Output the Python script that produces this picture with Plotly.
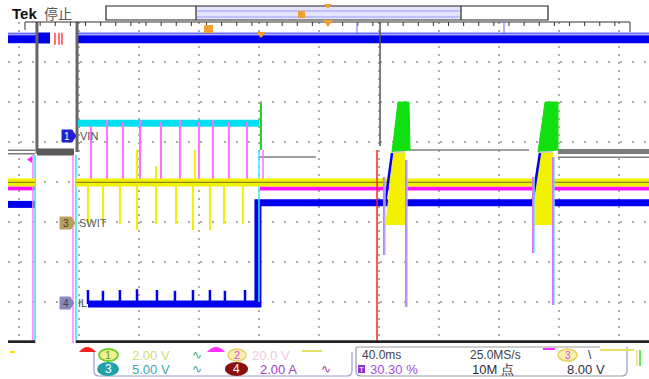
import plotly.graph_objects as go

# ---------------- data ----------------
# time in ms (40 ms/div, trigger at 0), level in divisions from screen centre
T_MIN, T_MAX = -247.3, 180.0
V_MIN, V_MAX = -4.025, 4.0

# top (clipped) blue channel band
top_blue_t = [-247.3, -228.0, None, -200.7, 180.0]
top_blue_v = [3.57, 3.57, None, 3.57, 3.57]
top_blue_block_t = [-228.0, -219.3]
top_blue_block_v = [3.6, 3.6]

# VIN (cyan)
vin_t = [-200.7, -80.0]
vin_v = [1.47, 1.47]

# gray channel
gray_thick_t = [-247.3, -229.3, None, 119.3, 180.0]
gray_thick_v = [0.75, 0.75, None, 0.76, 0.76]
gray_thin_t = [-80.7, -42.0, None, 20.0, 100.0, None, 119.3, 180.0]
gray_thin_v = [0.625, 0.625, None, 0.8, 0.8, None, 0.62, 0.62]
gray_dark_t = [-228.0, -228.0, -203.3, None, -201.3, -201.3]
gray_dark_v = [4.1, 0.75, 0.75, None, 0.75, 4.1]

# SWIT (yellow)
swit_t = [-247.3, -229.3, None, -202.0, 180.0]
swit_v = [-0.01, -0.01, None, -0.01, -0.01]
swit_spike_t = [-194.0, -184.0, -172.7, -161.3, -148.7, -135.3, -124.0, -112.7, -103.3, -90.7]
swit_spike_low = [-1.05, -1.05, -1.05, -1.2, -1.05, -1.05, -1.2, -1.2, -1.05, -1.05]
swit_up_t = [-161.3, -148.7, -122.7]
swit_up_high = [0.8, 0.4, 0.8]

# magenta channel
mag_t = [-247.3, -229.3, None, -79.3, 180.0]
mag_v = [-0.16, -0.16, None, -0.16, -0.16]
mag_spike_t = [-192.0, -181.3, -170.7, -159.3, -145.3, -132.7, -120.0, -110.7, -100.0, -88.0]
mag_spike_high = [1.4, 1.55, 1.5, 1.55, 1.5, 1.55, 1.5, 1.55, 1.5, 1.5]

# IL (blue)
il_t = [-247.3, -229.3, None, -194.0, -80.7, -80.7, 180.0]
il_v = [-0.56, -0.56, None, -3.05, -3.05, -0.52, -0.52]
il_spike_t = [-194.0, -184.0, -172.7, -161.3, -148.0, -136.0, -124.0, -112.7, -102.7, -89.3]
il_spike_high = [-2.7, -2.72, -2.7, -2.68, -2.7, -2.72, -2.7, -2.7, -2.72, -2.7]

# bursts (two switching events after the trigger)
burst_yellow_t = [[4.7, 8.0, 10.0, 17.3, 17.3], [102.7, 104.7, 107.3, 116.0, 116.0]]
burst_yellow_v = [[-1.075, 0.175, 0.725, 0.725, -1.075], [-1.075, 0.175, 0.725, 0.725, -1.075]]
burst_green_t = [[8.7, 12.7, 20.0, 20.7, 8.7], [106.0, 110.7, 119.3, 119.3, 106.0]]
burst_green_v = [[0.75, 2.0, 2.0, 0.8, 0.75], [0.75, 2.0, 2.0, 0.8, 0.75]]
burst_blue_t = [[4.0, 8.7], [102.0, 107.3]]
burst_blue_v = [[-0.575, 0.725], [-0.575, 0.725]]
burst_mag_t = [3.3, 18.0, 102.7, 116.0]
burst_mag_top = [0.125, 0.55, 0.125, 0.625]
burst_mag_low = [-1.825, -3.125, -1.775, -3.075]

vin_drop_green_t = [-78.7, -78.7]
vin_drop_green_v = [1.975, 0.8]

# ---------------- figure ----------------
W, H = 649, 379
ML, MR, MT, MB = 8, 0, 22, 36
PW, PH = W - ML - MR, H - MT - MB


def px(x):
    return (x - ML) / PW


def py(y):
    return (H - MB - y) / PH


fig = go.Figure()


def line(t, v, color, width, opacity=1.0):
    fig.add_trace(go.Scatter(x=t, y=v, mode="lines", line=dict(color=color, width=width),
                             opacity=opacity, hoverinfo="skip", showlegend=False))


def spikes(ts, a, b, color, width):
    xs, ys = [], []
    for i, t in enumerate(ts):
        lo = a[i] if isinstance(a, list) else a
        hi = b[i] if isinstance(b, list) else b
        xs += [t, t, None]
        ys += [lo, hi, None]
    line(xs, ys, color, width)


# top blue band
line(top_blue_t, top_blue_v, "#0000ee", 8)
line(top_blue_t, [None if v is None else v + 0.14 for v in top_blue_v], "#6a6aff", 2)
line(top_blue_block_t, top_blue_block_v, "#0000ee", 11)
spikes([-216.0, -213.3, -211.3], 3.43, 3.73, "#ff4040", 1.5)

# gray channel
line(gray_thick_t, gray_thick_v, "#7a7a7a", 5)
line([-247.3, -229.3], [0.75, 0.75], "#ffffff", 2)
line(gray_thin_t, gray_thin_v, "#808080", 1.6)
line(gray_dark_t, gray_dark_v, "#666666", 3)
line([-203.3, -228.0], [0.75, 0.75], "#5a5a5a", 7)

# VIN cyan
line(vin_t, vin_v, "#00e0f0", 7)

# magenta
line(mag_t, mag_v, "#ff10ff", 4)
spikes(mag_spike_t, 0.0, mag_spike_high, "#ff70ff", 2)

# IL blue
line(il_t, il_v, "#0000ee", 7)
spikes(il_spike_t, -3.05, il_spike_high, "#0000ee", 2.5)

# edge verticals of the blank gap
spikes([-230.7, -204.0], 0.675, V_MIN, "#ff80ff", 1.5)
spikes([-229.3, -202.0], 0.675, V_MIN, "#30e0f0", 1.5)
spikes([-80.0], 0.8, -3.0, "#40e8f8", 1.5)
spikes([-77.3], 0.8, 0.05, "#ff70ff", 1.5)

# yellow SWIT
line(swit_t, swit_v, "#f0f000", 8)
spikes(swit_spike_t, 0.0, swit_spike_low, "#f0f000", 2)
spikes(swit_up_t, 0.0, swit_up_high, "#f0f000", 2)
line(swit_t, swit_v, "#8a8a20", 1.2)

# bursts
for i in range(2):
    fig.add_trace(go.Scatter(x=burst_yellow_t[i], y=burst_yellow_v[i], mode="lines", fill="toself",
                             fillcolor="#f2f200", line=dict(color="#f2f200", width=1),
                             hoverinfo="skip", showlegend=False))
    fig.add_trace(go.Scatter(x=burst_green_t[i], y=burst_green_v[i], mode="lines", fill="toself",
                             fillcolor="#10e010", line=dict(color="#10e010", width=1),
                             hoverinfo="skip", showlegend=False))
    line(burst_blue_t[i], burst_blue_v[i], "#0000ee", 2.5)
line([10.0, 17.3, None, 107.3, 116.0], [0.75, 0.75, None, 0.75, 0.75], "#c8c8c8", 1.5)
spikes(burst_mag_t, burst_mag_top, burst_mag_low, "#e070ff", 2)
spikes([t + 0.8 for t in burst_mag_t], burst_mag_top, burst_mag_low, "#70e0ff", 1)
line(vin_drop_green_t, vin_drop_green_v, "#20d020", 2)

# centre vertical graticule + red marker line
line([0.7, 0.7], [V_MAX, 0.9], "#555555", 1.5)
line([-1.3, -1.3], [0.8, V_MIN], "#ff2020", 1.5)

# bottom border
line([-247.3, -229.3, None, -202.0, 180.0], [V_MIN + 0.03] * 2 + [None] + [V_MIN + 0.03] * 2, "#222222", 3)

shapes = []
ann = []

# channel markers on the left
def pent(x0, x1, yc, h, color):
    xm = x1 - 4
    path = (f"M {px(x0)},{py(yc - h)} L {px(xm)},{py(yc - h)} L {px(x1)},{py(yc)} "
            f"L {px(xm)},{py(yc + h)} L {px(x0)},{py(yc + h)} Z")
    shapes.append(dict(type="path", xref="paper", yref="paper", path=path,
                       fillcolor=color, line=dict(color=color, width=1)))


pent(62, 76, 136, 6, "#2020d0")
pent(60, 75, 223, 6, "#b8a060")
pent(60, 74, 303, 6, "#8888bb")
ann += [
    dict(x=px(67), y=py(136), text="1", font=dict(color="#ffffff", size=10)),
    dict(x=px(66), y=py(223), text="3", font=dict(color="#404020", size=10)),
    dict(x=px(66), y=py(303), text="4", font=dict(color="#404060", size=10)),
    dict(x=px(78), y=py(136), text="VIN", xanchor="left", font=dict(color="#505050", size=11)),
    dict(x=px(77), y=py(223), text="SWIT", xanchor="left", font=dict(color="#606060", size=11)),
    dict(x=px(76), y=py(303), text="IL", xanchor="left", font=dict(color="#505060", size=11)),
]
shapes.append(dict(type="path", xref="paper", yref="paper",
                   path=f"M {px(27)},{py(159.5)} L {px(32)},{py(156)} L {px(32)},{py(163)} Z",
                   fillcolor="#ff20ff", line=dict(width=0)))

# header
ann += [
    dict(x=px(10), y=py(13), text="<b>Tek</b>", xanchor="left", font=dict(color="#111111", size=15)),
    dict(x=px(42), y=py(13), text="停止", xanchor="left", font=dict(color="#555555", size=14,
                                                                    family="Noto Sans CJK SC")),
]
shapes += [
    dict(type="rect", xref="paper", yref="paper", x0=px(197), x1=px(460), y0=py(19), y1=py(6),
         fillcolor="#e4e4ff", line=dict(width=0)),
    dict(type="line", xref="paper", yref="paper", x0=px(197), x1=px(460), y0=py(11), y1=py(11),
         line=dict(color="#9a9aff", width=1)),
    dict(type="line", xref="paper", yref="paper", x0=px(197), x1=px(460), y0=py(17), y1=py(17),
         line=dict(color="#9a9aff", width=1)),
    dict(type="rect", xref="paper", yref="paper", x0=px(106), x1=px(548), y0=py(20), y1=py(6),
         line=dict(color="#222222", width=1.2)),
    dict(type="line", xref="paper", yref="paper", x0=px(196), x1=px(196), y0=py(20), y1=py(6),
         line=dict(color="#222222", width=1.2)),
    dict(type="line", xref="paper", yref="paper", x0=px(461), x1=px(461), y0=py(20), y1=py(6),
         line=dict(color="#222222", width=1.2)),
    dict(type="rect", xref="paper", yref="paper", x0=px(298), x1=px(305), y0=py(18), y1=py(11),
         fillcolor="#f4a030", line=dict(width=0)),
    dict(type="path", xref="paper", yref="paper",
         path=f"M {px(324)},{py(4)} L {px(332)},{py(4)} L {px(328)},{py(9)} Z",
         fillcolor="#f4a030", line=dict(width=0)),
]
# ruler
rp = f"M {px(25)},{py(30)} L {px(25)},{py(22)} L {px(630)},{py(22)} L {px(630)},{py(32)} "
for i in range(1, 40):
    x = 25 + i * 605 / 40
    rp += f"M {px(x)},{py(22)} L {px(x)},{py(26)} "
shapes.append(dict(type="path", xref="paper", yref="paper", path=rp, line=dict(color="#333333", width=1)))
shapes += [
    dict(type="line", xref="paper", yref="paper", x0=px(357), x1=px(357), y0=py(22), y1=py(36),
         line=dict(color="#6a6aff", width=1)),
    dict(type="line", xref="paper", yref="paper", x0=px(504), x1=px(504), y0=py(22), y1=py(36),
         line=dict(color="#6a6aff", width=1)),
    dict(type="rect", xref="paper", yref="paper", x0=px(204), x1=px(213), y0=py(33), y1=py(25),
         fillcolor="#f4a030", line=dict(width=0)),
    dict(type="path", xref="paper", yref="paper",
         path=f"M {px(256)},{py(32)} L {px(266)},{py(32)} L {px(261)},{py(38)} Z",
         fillcolor="#f4a030", line=dict(width=0)),
    dict(type="path", xref="paper", yref="paper",
         path=f"M {px(323)},{py(20)} L {px(333)},{py(20)} L {px(328)},{py(27)} Z",
         fillcolor="#f4a030", line=dict(width=0)),
]

# bottom info panel
def rrect(x0, y0, x1, y1, r, color):
    return dict(type="path", xref="paper", yref="paper",
                path=(f"M {px(x0)},{py(y0)} L {px(x0)},{py(y1 - r)} Q {px(x0)},{py(y1)} {px(x0 + r)},{py(y1)} "
                      f"L {px(x1 - r)},{py(y1)} Q {px(x1)},{py(y1)} {px(x1)},{py(y1 - r)} L {px(x1)},{py(y0)}"),
                line=dict(color=color, width=1.2))


shapes += [
    rrect(94, 352, 352, 376, 5, "#9a9ac8"),
    rrect(356, 347, 627, 376, 5, "#9a9ab0"),
    dict(type="line", xref="paper", yref="paper", x0=px(356), x1=px(600), y0=py(347), y1=py(347),
         line=dict(color="#999999", width=1)),
    dict(type="path", xref="paper", yref="paper",
         path=f"M {px(79)},{py(352)} Q {px(87)},{py(342)} {px(96)},{py(352)} Z",
         fillcolor="#ff2020", line=dict(width=0)),
    dict(type="path", xref="paper", yref="paper",
         path=f"M {px(207)},{py(352)} Q {px(216)},{py(342)} {px(225)},{py(352)} Z",
         fillcolor="#ff30ff", line=dict(width=0)),
    dict(type="line", xref="paper", yref="paper", x0=px(302), x1=px(322), y0=py(351), y1=py(351),
         line=dict(color="#e8e060", width=2)),
    dict(type="line", xref="paper", yref="paper", x0=px(600), x1=px(634), y0=py(350), y1=py(350),
         line=dict(color="#e8e060", width=2)),
    dict(type="line", xref="paper", yref="paper", x0=px(543), x1=px(555), y0=py(349), y1=py(349),
         line=dict(color="#ff30ff", width=2)),
    dict(type="line", xref="paper", yref="paper", x0=px(10), x1=px(15), y0=py(352), y1=py(352),
         line=dict(color="#e8e000", width=2)),
    dict(type="line", xref="paper", yref="paper", x0=px(637), x1=px(637), y0=py(350), y1=py(366),
         line=dict(color="#e8e060", width=1.5)),
    dict(type="line", xref="paper", yref="paper", x0=px(640), x1=px(640), y0=py(350), y1=py(366),
         line=dict(color="#30e030", width=1.5)),
    dict(type="circle", xref="paper", yref="paper", x0=px(99), x1=px(118), y0=py(361), y1=py(349),
         fillcolor="#f4f090", line=dict(color="#70d030", width=2)),
    dict(type="circle", xref="paper", yref="paper", x0=px(228), x1=px(246), y0=py(361), y1=py(349),
         fillcolor="#f8f0b0", line=dict(color="#e8d060", width=1.5)),
    dict(type="circle", xref="paper", yref="paper", x0=px(97), x1=px(119), y0=py(376), y1=py(362),
         fillcolor="#20a0a8", line=dict(width=0)),
    dict(type="circle", xref="paper", yref="paper", x0=px(225), x1=px(248), y0=py(376), y1=py(362),
         fillcolor="#8a1010", line=dict(width=0)),
    dict(type="circle", xref="paper", yref="paper", x0=px(558), x1=px(577), y0=py(361), y1=py(349),
         fillcolor="#f8f0b0", line=dict(color="#e8d060", width=1.5)),
    dict(type="rect", xref="paper", yref="paper", x0=px(358), x1=px(365), y0=py(373), y1=py(365),
         fillcolor="#9030d0", line=dict(width=0)),
]

F = "Liberation Sans"
ann += [
    dict(x=px(108.5), y=py(355), text="1", font=dict(color="#60a020", size=11)),
    dict(x=px(130), y=py(355), text="2.00 V", xanchor="left", font=dict(color="#c8e080", size=13)),
    dict(x=px(197), y=py(355), text="∿", font=dict(color="#40b080", size=12)),
    dict(x=px(237), y=py(355), text="2", font=dict(color="#e040e0", size=11)),
    dict(x=px(250), y=py(355), text="20.0 V", xanchor="left", font=dict(color="#f0c8e0", size=13)),
    dict(x=px(108), y=py(369), text="3", font=dict(color="#ffffff", size=12)),
    dict(x=px(130), y=py(369), text="5.00 V", xanchor="left", font=dict(color="#40a8b8", size=13)),
    dict(x=px(197), y=py(369), text="∿", font=dict(color="#40a0a0", size=12)),
    dict(x=px(236.5), y=py(369), text="4", font=dict(color="#ffffff", size=12)),
    dict(x=px(258), y=py(369), text="2.00 A", xanchor="left", font=dict(color="#a040c0", size=13)),
    dict(x=px(326), y=py(369), text="∿", font=dict(color="#a040a0", size=12)),
    dict(x=px(360), y=py(355), text="40.0ms", xanchor="left", font=dict(color="#404050", size=12)),
    dict(x=px(468), y=py(355), text="25.0MS/s", xanchor="left", font=dict(color="#404050", size=12)),
    dict(x=px(567.5), y=py(355), text="3", font=dict(color="#e040e0", size=10)),
    dict(x=px(590), y=py(355), text="\\", font=dict(color="#303040", size=12)),
    dict(x=px(361.5), y=py(369), text="T", font=dict(color="#ffffff", size=8)),
    dict(x=px(368), y=py(369), text="30.30 %", xanchor="left", font=dict(color="#a050e0", size=13)),
    dict(x=px(470), y=py(369), text="10M 点", xanchor="left", font=dict(color="#303040", size=13)),
    dict(x=px(565), y=py(369), text="8.00 V", xanchor="left", font=dict(color="#303040", size=13)),
]
for a in ann:
    a.setdefault("xref", "paper")
    a.setdefault("yref", "paper")
    a.setdefault("showarrow", False)
    a.setdefault("yanchor", "middle")
    a.setdefault("xanchor", "center")
    a["font"].setdefault("family", F)

fig.update_layout(
    width=W, height=H,
    margin=dict(l=ML, r=MR, t=MT, b=MB),
    paper_bgcolor="#ffffff", plot_bgcolor="#ffffff",
    shapes=shapes, annotations=ann,
    showlegend=False, hovermode=False,
    xaxis=dict(range=[T_MIN, T_MAX], tick0=0, dtick=40, showticklabels=False, ticks="",
               showgrid=True, gridcolor="#b8a8a8", gridwidth=1.5, griddash="1.5px,6.5px",
               zeroline=False, showline=False),
    yaxis=dict(range=[V_MIN, V_MAX], tick0=0, dtick=1, showticklabels=False, ticks="",
               showgrid=True, gridcolor="#b8a8a8", gridwidth=1.5, griddash="1.5px,10.5px",
               zeroline=False, showline=False),
)

fig.write_html("out.html", config={"displayModeBar": False, "staticPlot": True},
               post_script="document.body.style.margin='0px';document.body.style.overflow='hidden';")
